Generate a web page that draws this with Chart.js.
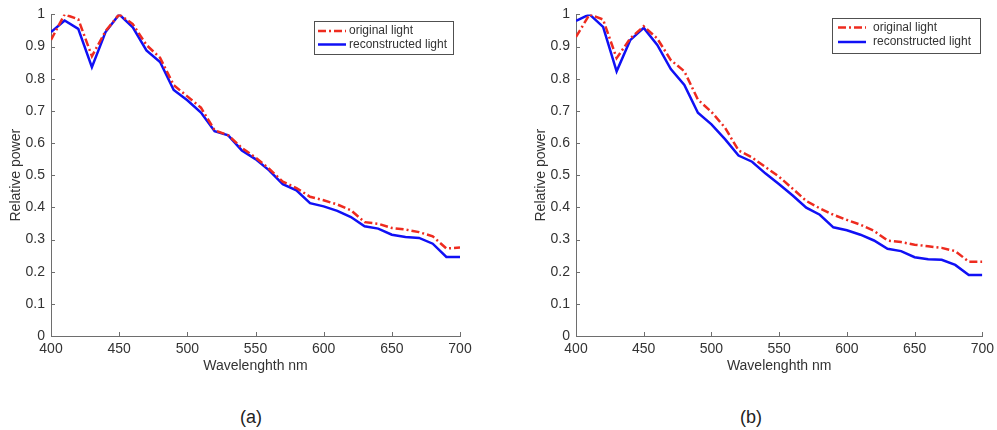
<!DOCTYPE html>
<html>
<head>
<meta charset="utf-8">
<title>Relative power spectra</title>
<script src="https://cdn.jsdelivr.net/npm/chart.js@4.4.1/dist/chart.umd.min.js"></script>
<style>
  html, body { margin: 0; padding: 0; background: #fff; }
  body { width: 997px; height: 430px; position: relative; overflow: hidden; font-family: "Liberation Sans", Arial, sans-serif; }
  canvas { position: absolute; top: 0; }
  #chartA { left: 0; }
  #chartB { left: 525px; }
  .caption { position: absolute; top: 407px; font-size: 18px; line-height: 20px; color: #222; transform: translateX(-50%); }
</style>
</head>
<body>
<canvas id="chartA" width="490" height="390"></canvas>
<canvas id="chartB" width="474" height="390"></canvas>
<div class="caption" style="left: 251px;">(a)</div>
<div class="caption" style="left: 751px;">(b)</div>

<script>
// Wavelengths sampled every 10 nm
const wavelengths = [400, 410, 420, 430, 440, 450, 460, 470, 480, 490, 500,
                     510, 520, 530, 540, 550, 560, 570, 580, 590, 600,
                     610, 620, 630, 640, 650, 660, 670, 680, 690, 700];
const xTicks = [400, 450, 500, 550, 600, 650, 700];

// Panel (a)
const originalA = [0.921, 1.000, 0.985, 0.870, 0.948, 1.000, 0.970, 0.905, 0.865, 0.780, 0.745,
                   0.710, 0.640, 0.624, 0.585, 0.555, 0.520, 0.480, 0.460, 0.433, 0.422,
                   0.409, 0.391, 0.354, 0.349, 0.336, 0.331, 0.323, 0.310, 0.272, 0.275];
const reconstructedA = [0.945, 0.981, 0.955, 0.836, 0.945, 1.000, 0.960, 0.888, 0.852, 0.765, 0.733,
                        0.695, 0.637, 0.624, 0.577, 0.550, 0.515, 0.472, 0.453, 0.413, 0.403,
                        0.389, 0.370, 0.341, 0.334, 0.315, 0.308, 0.305, 0.287, 0.246, 0.246];

// Panel (b)
const originalB = [0.930, 1.000, 0.984, 0.864, 0.925, 0.963, 0.925, 0.858, 0.823, 0.735, 0.697,
                   0.648, 0.577, 0.555, 0.525, 0.495, 0.458, 0.420, 0.397, 0.377, 0.361,
                   0.346, 0.327, 0.297, 0.292, 0.284, 0.279, 0.274, 0.264, 0.231, 0.231];
const reconstructedB = [0.980, 1.000, 0.961, 0.823, 0.920, 0.958, 0.905, 0.830, 0.781, 0.694, 0.658,
                        0.612, 0.561, 0.542, 0.505, 0.472, 0.437, 0.399, 0.377, 0.338, 0.329,
                        0.315, 0.297, 0.271, 0.264, 0.245, 0.239, 0.237, 0.221, 0.190, 0.190];

const seriesLabels = ['original light', 'reconstructed light'];

const fontFamily = '"Liberation Sans", Arial, sans-serif';
const textColor = '#333';
const axisColor = '#6e6e6e';

// Short tick marks pointing into the plot, drawn on both axes
const inwardTicks = {
    id: 'inwardTicks',
    afterDraw(chart) {
        const {ctx, chartArea, scales: {x, y}} = chart;
        ctx.save();
        ctx.strokeStyle = axisColor;
        ctx.lineWidth = 1;
        ctx.beginPath();
        x.ticks.forEach(t => {
            const px = Math.round(x.getPixelForValue(t.value)) + 0.5;
            ctx.moveTo(px, chartArea.bottom);
            ctx.lineTo(px, chartArea.bottom - 4);
        });
        y.ticks.forEach(t => {
            const py = Math.round(y.getPixelForValue(t.value)) + 0.5;
            ctx.moveTo(chartArea.left, py);
            ctx.lineTo(chartArea.left + 4, py);
        });
        ctx.stroke();
        ctx.restore();
    }
};

// Legend inside a thin framed box, samples taken from the dataset styles
const boxedLegend = {
    id: 'boxedLegend',
    afterDraw(chart, args, opts) {
        const {ctx} = chart;
        ctx.save();
        ctx.fillStyle = '#fff';
        ctx.fillRect(opts.left, opts.top, opts.width, opts.height);
        ctx.strokeStyle = '#505050';
        ctx.lineWidth = 1;
        ctx.strokeRect(opts.left + 0.5, opts.top + 0.5, opts.width, opts.height);
        ctx.font = '12px ' + fontFamily;
        ctx.textBaseline = 'middle';
        chart.data.datasets.forEach((ds, i) => {
            const cy = opts.top + opts.rowTop + i * opts.rowGap;
            ctx.strokeStyle = ds.borderColor;
            ctx.lineWidth = ds.borderWidth;
            ctx.setLineDash(ds.borderDash || []);
            ctx.beginPath();
            ctx.moveTo(opts.left + opts.sampleLeft, cy);
            ctx.lineTo(opts.left + opts.sampleLeft + 28, cy);
            ctx.stroke();
            ctx.setLineDash([]);
            ctx.fillStyle = textColor;
            ctx.fillText(ds.label, opts.left + opts.textLeft, cy);
        });
        ctx.restore();
    }
};

function toPoints(values) {
    return wavelengths.map((w, i) => ({x: w, y: values[i]}));
}

function spectrumChart(canvasId, original, reconstructed, padding, legendBox) {
    const el = document.getElementById(canvasId);
    if (!el) return;
    new Chart(el.getContext('2d'), {
        type: 'line',
        data: {
            datasets: [{
                label: seriesLabels[0],
                data: toPoints(original),
                borderColor: '#ee2b1f',
                borderWidth: 2.5,
                borderDash: [8, 3, 2, 3],
                pointRadius: 0,
                tension: 0,
                fill: false
            }, {
                label: seriesLabels[1],
                data: toPoints(reconstructed),
                borderColor: '#1010f5',
                borderWidth: 2.5,
                pointRadius: 0,
                tension: 0,
                fill: false
            }]
        },
        options: {
            responsive: false,
            animation: false,
            events: [],
            layout: {padding: padding},
            plugins: {
                legend: {display: false},
                tooltip: {enabled: false},
                boxedLegend: legendBox
            },
            scales: {
                x: {
                    type: 'linear',
                    min: 400,
                    max: 700,
                    afterBuildTicks: scale => {
                        scale.ticks = xTicks.map(v => ({value: v}));
                    },
                    afterFit: scale => { scale.height = 54; },
                    grid: {drawOnChartArea: false, drawTicks: false},
                    border: {display: true, color: axisColor, width: 1},
                    ticks: {
                        autoSkip: false,
                        maxRotation: 0,
                        padding: 5,
                        color: textColor,
                        font: {family: fontFamily, size: 14}
                    },
                    title: {
                        display: true,
                        text: 'Wavelenghth nm',
                        color: textColor,
                        font: {family: fontFamily, size: 14},
                        padding: {top: 0, bottom: 15}
                    }
                },
                y: {
                    min: 0,
                    max: 1,
                    afterFit: scale => { scale.width = 51; },
                    grid: {drawOnChartArea: false, drawTicks: false},
                    border: {display: true, color: axisColor, width: 1},
                    ticks: {
                        stepSize: 0.1,
                        padding: 6,
                        color: textColor,
                        font: {family: fontFamily, size: 14},
                        callback: v => String(Number(v.toFixed(1)))
                    },
                    title: {
                        display: true,
                        text: 'Relative power',
                        color: textColor,
                        font: {family: fontFamily, size: 14},
                        padding: {top: 8, bottom: 0}
                    }
                }
            }
        },
        plugins: [inwardTicks, boxedLegend]
    });
}

document.addEventListener('DOMContentLoaded', function() {
    spectrumChart('chartA', originalA, reconstructedA,
        {top: 14, right: 30, bottom: 0, left: 0},
        {left: 314, top: 21, width: 139, height: 33, rowTop: 10, rowGap: 13.5, sampleLeft: 4, textLeft: 35});

    spectrumChart('chartB', originalB, reconstructedB,
        {top: 11, right: 12, bottom: 0, left: 0},
        {left: 307, top: 18, width: 148, height: 35, rowTop: 9.5, rowGap: 14.5, sampleLeft: 6, textLeft: 41});
});
</script>
</body>
</html>
